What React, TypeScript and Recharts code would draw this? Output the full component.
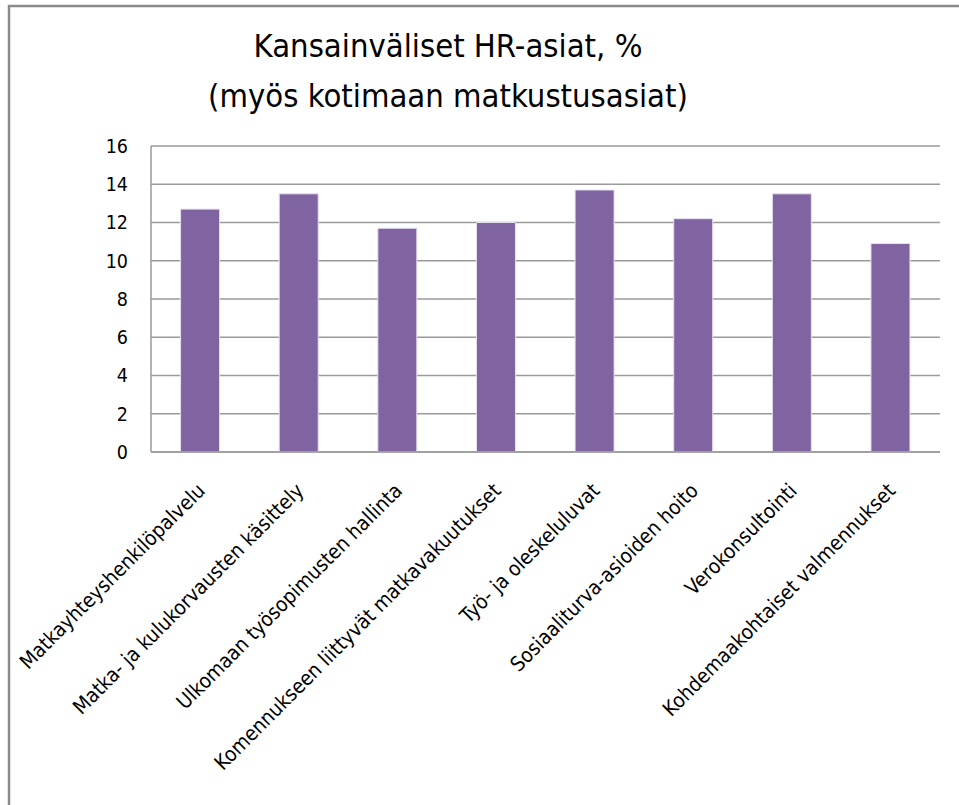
import { BarChart, Bar, XAxis, YAxis, CartesianGrid } from 'recharts'

const categories = [
  'Matkayhteyshenkilöpalvelu',
  'Matka- ja kulukorvausten käsittely',
  'Ulkomaan työsopimusten hallinta',
  'Komennukseen liittyvät matkavakuutukset',
  'Työ- ja oleskeluluvat',
  'Sosiaaliturva-asioiden hoito',
  'Verokonsultointi',
  'Kohdemaakohtaiset valmennukset',
]

const shares = [12.7, 13.5, 11.7, 12.0, 13.7, 12.2, 13.5, 10.9]

const yTicks = [0, 2, 4, 6, 8, 10, 12, 14, 16]

const data = categories.map((name, i) => ({ name, value: shares[i] }))

const FONT = '"DejaVu Sans Condensed", "DejaVu Sans", sans-serif'

const CategoryTick = ({ x, y, payload }: { x?: number; y?: number; payload?: { value: string } }) => {
  if (x == null || y == null || !payload) return null
  return (
    <g transform={`translate(${x + 6},${y + 32})`}>
      <text
        x={0}
        y={0}
        textAnchor="end"
        transform="rotate(-45)"
        fontFamily={FONT}
        fontSize={20.5}
        fill="#000"
      >
        {payload.value}
      </text>
    </g>
  )
}

export default function App() {
  return (
    <div style={{ position: 'absolute', top: 0, left: 0, width: 959, height: 805, background: '#fff', overflow: 'hidden' }}>
      <svg width={959} height={805} style={{ position: 'absolute', top: 0, left: 0 }}>
        {/* chart frame: only top and left edges are visible */}
        <path d="M9 805 V6 H959" fill="none" stroke="#8a8a8a" strokeWidth={2.5} />
      </svg>
      <div
        style={{
          position: 'absolute',
          left: 2,
          top: 21,
          width: 892,
          textAlign: 'center',
          fontFamily: FONT,
          fontSize: 32.5,
          lineHeight: '50px',
          color: '#000',
        }}
      >
        Kansainväliset HR-asiat, %
        <br />
        (myös kotimaan matkustusasiat)
      </div>
      <div style={{ position: 'absolute', left: 10, top: 7 }}>
        <BarChart
          width={949}
          height={798}
          data={data}
          margin={{ top: 139, right: 19, left: 81, bottom: 13 }}
          barCategoryGap="30%"
        >
          <CartesianGrid vertical={false} stroke="#9a9a9a" strokeWidth={1.5} />
          <XAxis
            dataKey="name"
            interval={0}
            height={340}
            tickLine={false}
            axisLine={{ stroke: '#9a9a9a', strokeWidth: 1.5 }}
            tick={<CategoryTick />}
          />
          <YAxis
            width={60}
            domain={[0, 16]}
            ticks={yTicks}
            interval={0}
            tickLine={false}
            axisLine={{ stroke: '#9a9a9a', strokeWidth: 1.5 }}
            tick={{ fill: '#000', fontSize: 19.5, fontFamily: FONT }}
            tickMargin={17}
          />
          <Bar dataKey="value" fill="#8064a2" stroke="#e6e0ee" strokeWidth={1} isAnimationActive={false} />
        </BarChart>
      </div>
    </div>
  )
}
